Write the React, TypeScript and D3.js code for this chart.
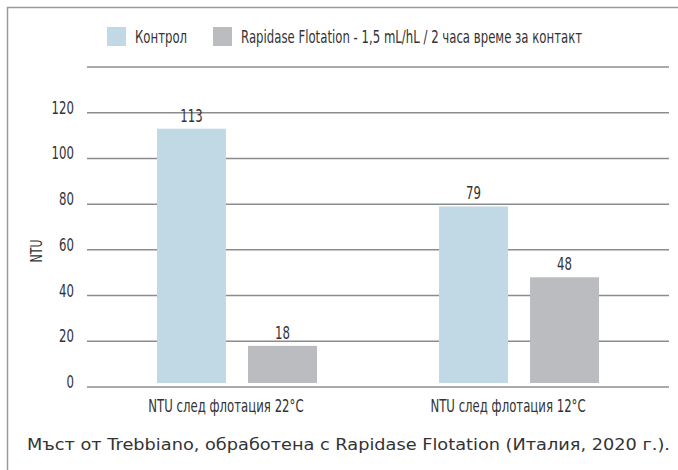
import { useEffect, useRef } from 'react'
import * as d3 from 'd3'

const categories = ['NTU след флотация 22°C', 'NTU след флотация 12°C']
const seriesNames = ['Контрол', 'Rapidase Flotation - 1,5 mL/hL / 2 часа време за контакт']
const controlValues = [113, 79]
const rapidaseValues = [18, 48]
const yTicks = [0, 20, 40, 60, 80, 100, 120]
const yGridMax = 140
const yLabel = 'NTU'
const caption = 'Мъст от Trebbiano, обработена с Rapidase Flotation (Италия, 2020 г.).'

const colors = ['#c1d9e4', '#bbbcbf']
const narrowFont = '"DejaVu Sans", sans-serif'
const condense = 0.69 // the original uses a condensed face, squeeze the glyphs

const App = () => {
  const svgRef = useRef<SVGSVGElement>(null)

  useEffect(() => {
    const svg = d3.select(svgRef.current)
    svg.selectAll('*').remove()

    const W = 678
    const H = 470
    const plot = { left: 87, right: 669, top: 67, bottom: 387 }

    // frame
    svg.append('path')
      .attr('d', `M7.5,${H} V7.5 H${W}`)
      .attr('fill', 'none')
      .attr('stroke', '#9a9a9a')
      .attr('stroke-width', 1.5)

    const y = d3.scaleLinear().domain([0, yGridMax]).range([plot.bottom, plot.top])
    const x0 = d3.scaleBand<string>()
      .domain(categories)
      .range([plot.left, plot.right])
      .paddingInner(0.4326)
      .paddingOuter(0.248)
    const x1 = d3.scaleBand<number>()
      .domain([0, 1])
      .range([0, x0.bandwidth()])
      .paddingInner(0.2418)

    // gridlines
    svg.append('g')
      .selectAll('line')
      .data(d3.range(0, yGridMax + 1, 20))
      .join('line')
      .attr('x1', plot.left)
      .attr('x2', plot.right)
      .attr('y1', (d) => y(d))
      .attr('y2', (d) => y(d))
      .attr('stroke', '#8c8c8c')
      .attr('stroke-width', 1.5)

    // y tick labels
    svg.append('g')
      .selectAll('text')
      .data(yTicks)
      .join('text')
      .attr('class', 'narrow')
      .attr('x', 74)
      .attr('y', (d) => y(d) + 1)
      .attr('text-anchor', 'end')
      .text((d) => d)

    const series = [controlValues, rapidaseValues]
    const bars = categories.flatMap((c, i) =>
      series.map((vals, s) => ({ cat: c, s, value: vals[i] }))
    )

    const barG = svg.append('g')
    barG.selectAll('rect')
      .data(bars)
      .join('rect')
      .attr('x', (d) => (x0(d.cat) as number) + (x1(d.s) as number))
      .attr('width', x1.bandwidth())
      .attr('y', (d) => y(d.value))
      .attr('height', (d) => y(0) - 4 - y(d.value))
      .attr('fill', (d) => colors[d.s])

    barG.selectAll('text')
      .data(bars)
      .join('text')
      .attr('class', 'narrow')
      .attr('x', (d) => (x0(d.cat) as number) + (x1(d.s) as number) + x1.bandwidth() / 2)
      .attr('y', (d) => y(d.value) - 7)
      .attr('text-anchor', 'middle')
      .text((d) => d.value)

    // category labels
    svg.append('g')
      .selectAll('text')
      .data(categories)
      .join('text')
      .attr('class', 'narrow')
      .attr('x', (d) => (x0(d) as number) + x0.bandwidth() / 2 - 11)
      .attr('y', 412)
      .attr('text-anchor', 'middle')
      .text((d) => d)

    // legend
    const legendX = [107, 213]
    const legend = svg.append('g')
      .selectAll('g')
      .data(seriesNames)
      .join('g')
      .attr('transform', (d, i) => `translate(${legendX[i]}, 27)`)
    legend.append('rect')
      .attr('width', 19)
      .attr('height', 19)
      .attr('fill', (d, i) => colors[i])
    legend.append('text')
      .attr('class', 'narrow')
      .attr('x', 28)
      .attr('y', 16)
      .text((d) => d)

    // squeeze every narrow label horizontally around its anchor point
    svg.selectAll<SVGTextElement, unknown>('text.narrow')
      .style('font-family', narrowFont)
      .style('font-size', '17px')
      .attr('fill', '#333')
      .attr('transform', function () {
        const tx = this.getAttribute('x')
        const ty = this.getAttribute('y')
        return `translate(${tx},${ty}) scale(${condense},1)`
      })
      .attr('x', 0)
      .attr('y', 0)

    // y axis label (rotated, also squeezed along its length)
    svg.append('text')
      .attr('transform', `translate(42, 251) rotate(-90) scale(${condense},1)`)
      .attr('text-anchor', 'middle')
      .style('font-family', narrowFont)
      .style('font-size', '16px')
      .attr('fill', '#333')
      .text(yLabel)

    // caption
    svg.append('text')
      .attr('x', 27)
      .attr('y', 450)
      .attr('textLength', 643)
      .attr('lengthAdjust', 'spacingAndGlyphs')
      .style('font-family', '"DejaVu Sans", sans-serif')
      .style('font-size', '16px')
      .attr('fill', '#333')
      .text(caption)
  }, [])

  return (
    <svg
      ref={svgRef}
      width='678'
      height='470'
      style={{ position: 'fixed', left: 0, top: 0, background: '#fff' }}
    />
  )
}

export default App
